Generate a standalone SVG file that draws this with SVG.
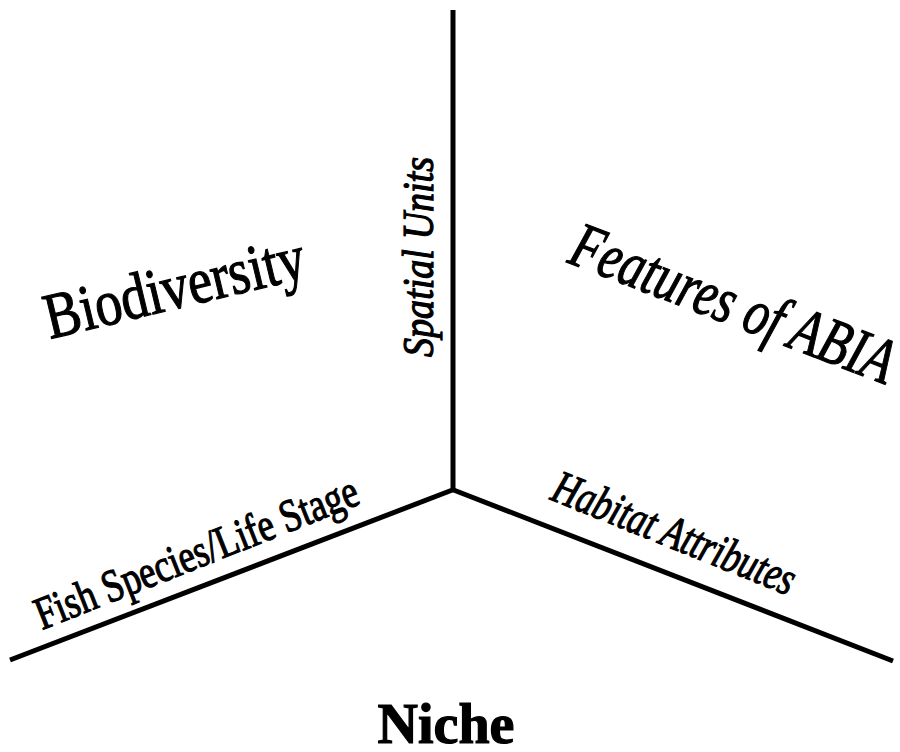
<svg xmlns="http://www.w3.org/2000/svg" width="900" height="752" viewBox="0 0 900 752">
<style>
.ax{stroke:#000;stroke-width:5;fill:none;stroke-linecap:butt}
.t{font-family:"Liberation Serif","Times New Roman",serif;fill:#000;stroke:#000;stroke-width:1.2}
.it{font-style:italic}
</style>
<rect width="900" height="752" fill="#fff"/>
<g id="connectors">
<line class="ax" x1="453" y1="10" x2="453" y2="491"/>
<line class="ax" x1="455" y1="489" x2="10" y2="660"/>
<line class="ax" x1="451" y1="489" x2="893" y2="661"/>
</g>
<g id="biodiversity">
<text class="t" font-size="65" transform="translate(50,339) rotate(-13.5)" textLength="266" lengthAdjust="spacingAndGlyphs">Biodiversity</text>
</g>
<g id="spatial-units">
<text class="t it" font-size="44" transform="translate(433,357) rotate(-90)" textLength="200" lengthAdjust="spacingAndGlyphs">Spatial Units</text>
</g>
<g id="features">
<text class="t it" font-size="65" transform="translate(566,262) rotate(21)" textLength="342" lengthAdjust="spacingAndGlyphs">Features of ABIA</text>
</g>
<g id="fish">
<text class="t" font-size="46" transform="translate(42,630) rotate(-21.6)" textLength="344" lengthAdjust="spacingAndGlyphs">Fish Species/Life Stage</text>
</g>
<g id="habitat">
<text class="t it" font-size="47" transform="translate(549,499) rotate(22)" textLength="258" lengthAdjust="spacingAndGlyphs">Habitat Attributes</text>
</g>
<g id="niche">
<text class="t" font-weight="bold" font-size="56" x="446" y="743" text-anchor="middle" stroke-width="0.5">Niche</text>
</g>
</svg>
